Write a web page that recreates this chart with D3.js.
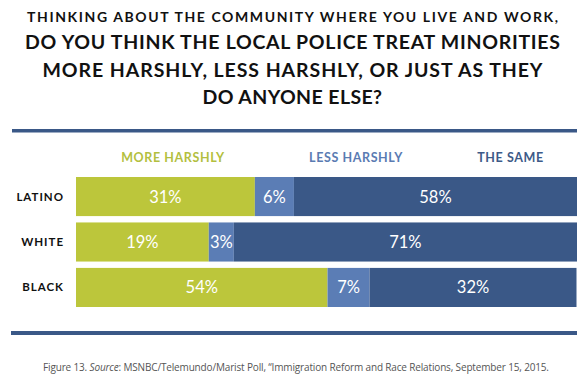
<!DOCTYPE html>
<html>
<head>
<meta charset="utf-8">
<script src="https://cdn.jsdelivr.net/npm/d3@7"></script>
<style>
  html, body { margin: 0; padding: 0; background: #fff; }
  svg { display: block; }
</style>
</head>
<body>
<svg id="chart"></svg>
<script>
// groups and series
const groups = ["LATINO", "WHITE", "BLACK"];
const series = ["MORE HARSHLY", "LESS HARSHLY", "THE SAME"];

// percentages printed on the bars
const moreHarshly = [31, 19, 54];
const lessHarshly = [6, 3, 7];
const theSame = [58, 71, 32];

// share of the bar each segment takes in the source figure
const moreHarshlyBar = [35.7, 26.5, 50.2];
const lessHarshlyBar = [7.8, 5.0, 8.4];
const theSameBar = [56.5, 68.5, 41.3];

const titleLines = [
    "THINKING ABOUT THE COMMUNITY WHERE YOU LIVE AND WORK,",
    "DO YOU THINK THE LOCAL POLICE TREAT MINORITIES",
    "MORE HARSHLY, LESS HARSHLY, OR JUST AS THEY",
    "DO ANYONE ELSE?"
];

const W = 587, H = 387;
const colors = ["#bcc63b", "#5b7db5", "#3a5887"];
const legendColors = ["#b3bf3f", "#5a7bb2", "#3d5a88"];

const svg = d3.select("#chart")
    .attr("width", W)
    .attr("height", H)
    .style("font-family", "Lato, 'Open Sans', sans-serif");

// title
const titleSpec = [
    { y: 22, size: 14, len: 531 },
    { y: 49, size: 19.5, len: 535 },
    { y: 77, size: 19.5, len: 500 },
    { y: 104, size: 19.5, len: null }
];
svg.append("g").selectAll("text")
    .data(titleLines)
    .enter().append("text")
    .attr("x", 292.5)
    .attr("y", (d, i) => titleSpec[i].y)
    .attr("text-anchor", "middle")
    .attr("font-size", (d, i) => titleSpec[i].size)
    .attr("font-weight", 700)
    .attr("textLength", (d, i) => titleSpec[i].len)
    .attr("lengthAdjust", "spacing")
    .attr("letter-spacing", (d, i) => i == 3 ? 0.4 : null)
    .attr("fill", "#111")
    .text(d => d);

// rules
svg.append("rect").attr("x", 12).attr("y", 129).attr("width", 565).attr("height", 3.5).attr("fill", "#3a5887");
svg.append("rect").attr("x", 11).attr("y", 331).attr("width", 566).attr("height", 4).attr("fill", "#3a5887");

// table for the stack
const rows = groups.map((g, i) => ({
    group: g,
    "MORE HARSHLY": moreHarshlyBar[i],
    "LESS HARSHLY": lessHarshlyBar[i],
    "THE SAME": theSameBar[i],
    labels: [moreHarshly[i], lessHarshly[i], theSame[i]]
}));

const stacked = d3.stack().keys(series)(rows);

const x = d3.scaleLinear().domain([0, 100]).range([76, 577]);
const y = d3.scaleBand().domain(groups).range([177, 307]).paddingInner(0.14).paddingOuter(0);

// legend
const legendX = [173, 356, 510.5];
svg.append("g").selectAll("text")
    .data(series)
    .enter().append("text")
    .attr("x", (d, i) => legendX[i])
    .attr("y", 162)
    .attr("text-anchor", "middle")
    .attr("font-size", 12.5)
    .attr("font-weight", 700)
    .attr("letter-spacing", 0.6)
    .attr("fill", (d, i) => legendColors[i])
    .text(d => d);

// group labels
svg.append("g").selectAll("text")
    .data(groups)
    .enter().append("text")
    .attr("x", 64)
    .attr("y", d => y(d) + y.bandwidth() / 2 + 4)
    .attr("text-anchor", "end")
    .attr("font-size", 11.5)
    .attr("font-weight", 700)
    .attr("letter-spacing", 1)
    .attr("fill", "#111")
    .text(d => d);

// bars
const layer = svg.append("g").selectAll("g")
    .data(stacked)
    .enter().append("g")
    .attr("fill", (d, i) => colors[i]);

layer.selectAll("rect")
    .data(d => d)
    .enter().append("rect")
    .attr("x", d => x(d[0]))
    .attr("y", d => y(d.data.group))
    .attr("width", d => x(d[1]) - x(d[0]))
    .attr("height", y.bandwidth());

layer.each(function (s, si) {
    d3.select(this).selectAll("text")
        .data(s)
        .enter().append("text")
        .attr("x", d => (x(d[0]) + x(d[1])) / 2)
        .attr("y", d => y(d.data.group) + y.bandwidth() / 2 + 6)
        .attr("text-anchor", "middle")
        .attr("font-size", 16.5)
        .attr("fill", "#fff")
        .text(d => d.data.labels[si] + "%");
});

// caption
const cap = svg.append("text")
    .attr("x", 296)
    .attr("y", 371)
    .attr("text-anchor", "middle")
    .attr("font-family", "'Open Sans', sans-serif")
    .attr("font-size", 10)
    .attr("fill", "#555")
    .attr("textLength", 506)
    .attr("lengthAdjust", "spacing");
cap.append("tspan").text("Figure 13. ");
cap.append("tspan").attr("font-style", "italic").text("Source");
cap.append("tspan").text(": MSNBC/Telemundo/Marist Poll, \u201cImmigration Reform and Race Relations, September 15, 2015.");
</script>
</body>
</html>
